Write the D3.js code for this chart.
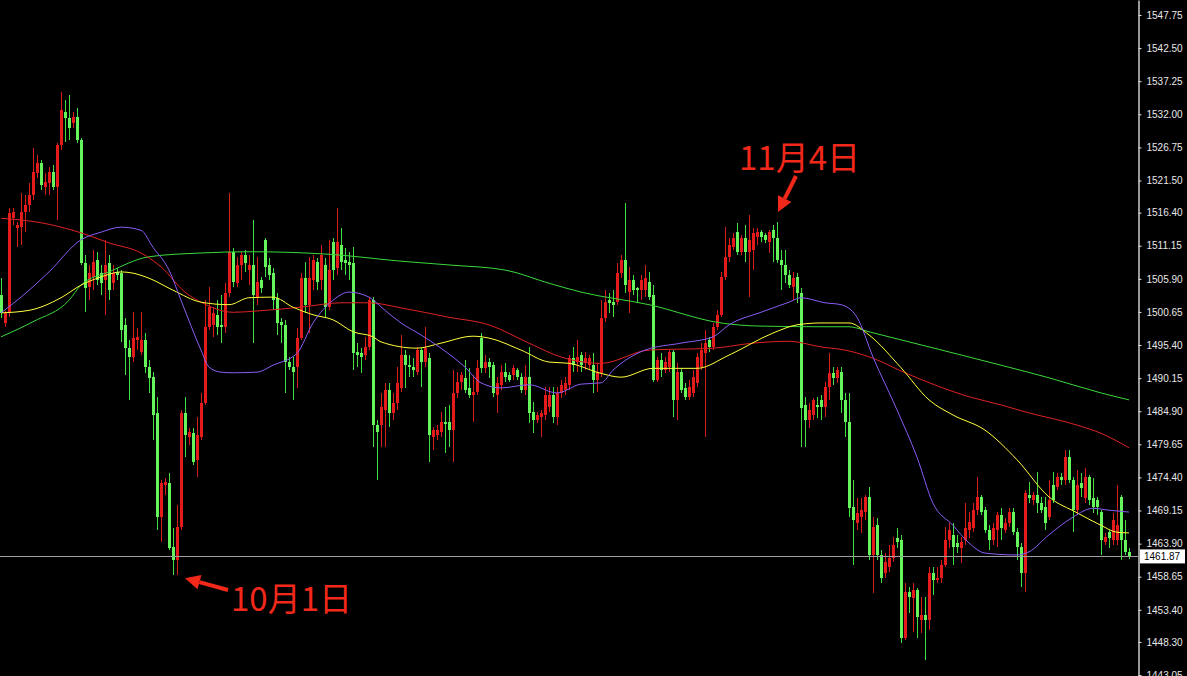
<!DOCTYPE html>
<html><head><meta charset="utf-8">
<script src="https://cdn.jsdelivr.net/npm/d3@7/dist/d3.min.js"></script>
<style>body{margin:0;background:#000;overflow:hidden}svg{display:block}</style>
</head><body><svg id="c" width="1187" height="676"></svg>
<script>
// ---- data ----
const open = [1503.3,1498.9,1500.5,1515.5,1513.9,1514.1,1516.5,1517.6,1519.2,1522.7,
1524.3,1520.5,1521.1,1522.8,1520.5,1527.1,1532.4,1531.4,1530.6,1531.6,
1527.9,1508.4,1504.6,1506.2,1508.9,1506.8,1505.7,1508.4,1505.2,1507.0,
1506.8,1498.6,1494.9,1493.5,1496.2,1494.3,1496.2,1491.9,1490.3,1484.6,
1468.1,1473.2,1473.5,1463.4,1461.3,1466.5,1484.6,1480.8,1481.4,1477.2,
1480.8,1486.2,1498.3,1498.6,1500.2,1498.6,1498.3,1503.6,1510.2,1505.2,
1508.1,1509.7,1507.3,1508.1,1503.0,1505.7,1512.0,1508.1,1506.8,1502.9,
1499.0,1498.6,1492.7,1491.9,1491.9,1496.5,1506.0,1501.7,1505.7,1508.6,
1505.7,1508.1,1501.4,1511.7,1507.6,1511.3,1508.9,1508.6,1508.4,1494.3,
1494.1,1493.8,1495.1,1502.5,1482.7,1482.7,1485.1,1488.3,1484.6,1486.2,
1488.6,1493.8,1492.2,1491.9,1491.1,1494.6,1492.7,1493.3,1480.8,1481.1,
1481.6,1483.2,1483.2,1481.9,1487.8,1489.5,1490.2,1488.6,1487.5,1487.9,
1496.5,1491.7,1492.7,1492.2,1487.5,1489.1,1491.1,1490.6,1490.6,1491.4,
1490.3,1488.3,1490.3,1484.8,1483.5,1484.0,1484.3,1485.6,1487.5,1484.0,
1487.8,1488.3,1489.1,1493.3,1492.7,1493.8,1492.5,1492.2,1492.2,1489.9,
1491.0,1499.7,1502.5,1502.2,1502.2,1506.8,1508.9,1503.8,1505.7,1504.4,
1504.1,1504.1,1505.4,1503.3,1489.9,1493.0,1491.4,1491.9,1494.3,1486.7,
1491.1,1488.6,1487.2,1487.8,1489.4,1491.9,1494.1,1496.2,1495.1,1498.3,
1500.2,1506.2,1509.4,1511.0,1513.3,1510.2,1512.4,1510.2,1510.5,1512.5,
1513.3,1512.8,1511.7,1513.6,1512.4,1508.9,1508.1,1506.5,1504.6,1506.2,
1503.6,1485.9,1483.5,1484.3,1485.9,1486.7,1485.6,1488.7,1490.9,1490.2,
1491.1,1486.7,1483.2,1469.7,1467.2,1468.1,1468.9,1471.3,1462.1,1466.8,
1462.1,1459.2,1460.2,1461.6,1464.8,1464.5,1448.9,1456.2,1455.3,1456.5,
1451.8,1452.6,1451.8,1459.2,1458.1,1458.4,1460.5,1464.5,1465.3,1464.0,
1463.2,1464.5,1466.1,1466.4,1469.2,1471.3,1469.2,1466.1,1464.5,1466.1,
1468.4,1466.1,1467.2,1468.9,1465.7,1463.4,1459.2,1471.6,1470.8,1471.6,
1470.3,1469.7,1468.1,1473.2,1472.9,1474.5,1474.0,1477.6,1474.0,1469.2,
1473.5,1471.1,1474.5,1471.1,1470.8,1468.9,1464.2,1465.7,1464.5,1464.5,
1471.3,1464.5,1462.6];
const high = [1506.0,1500.8,1517.1,1517.1,1514.9,1519.5,1519.2,1521.1,1526.7,1525.5,
1524.8,1522.7,1523.6,1523.9,1527.4,1535.5,1534.3,1535.0,1532.4,1533.0,
1528.2,1509.7,1508.1,1510.5,1510.2,1508.1,1512.0,1509.7,1508.1,1507.6,
1507.3,1499.7,1496.2,1500.6,1498.1,1500.6,1497.3,1493.0,1491.1,1487.2,
1474.0,1474.3,1475.1,1466.4,1470.0,1485.1,1487.2,1482.2,1482.2,1484.0,
1487.8,1502.5,1504.6,1501.4,1502.5,1503.3,1505.2,1519.5,1510.8,1509.4,
1510.2,1510.5,1509.7,1515.2,1509.4,1506.2,1512.4,1509.2,1507.6,1503.7,
1499.7,1499.4,1493.5,1493.5,1498.1,1506.8,1508.6,1509.4,1509.7,1509.2,
1511.3,1509.2,1512.0,1512.4,1517.1,1514.0,1510.8,1510.2,1510.9,1495.7,
1494.9,1496.7,1503.0,1503.0,1483.5,1487.8,1489.4,1489.4,1487.8,1491.9,
1497.0,1494.6,1493.8,1493.3,1495.1,1494.9,1498.3,1494.1,1482.4,1482.7,
1484.8,1485.6,1485.9,1491.4,1491.1,1491.1,1493.0,1491.7,1490.6,1493.0,
1497.3,1493.8,1493.3,1492.7,1490.3,1492.2,1492.5,1491.1,1492.2,1491.7,
1490.9,1492.2,1495.1,1486.4,1484.8,1485.1,1488.7,1488.7,1488.7,1488.7,
1489.9,1490.3,1493.8,1495.1,1496.2,1494.3,1494.3,1493.8,1494.1,1492.5,
1502.5,1504.1,1503.6,1504.1,1508.4,1509.7,1517.9,1507.8,1506.5,1504.6,
1506.5,1508.1,1507.0,1504.9,1493.5,1494.1,1493.5,1494.6,1494.6,1492.5,
1491.7,1489.4,1489.9,1491.4,1494.1,1495.7,1497.8,1496.7,1498.9,1500.9,
1507.0,1514.1,1512.4,1513.2,1514.8,1512.8,1514.4,1516.0,1514.0,1514.0,
1513.6,1513.2,1513.6,1514.4,1514.9,1510.5,1510.5,1507.3,1507.0,1506.8,
1504.4,1487.2,1486.2,1487.0,1487.2,1487.5,1489.5,1494.1,1491.9,1491.9,
1491.9,1487.8,1487.8,1474.0,1471.1,1471.1,1471.6,1472.9,1468.1,1467.9,
1462.9,1462.4,1463.7,1464.9,1466.4,1465.3,1457.6,1457.0,1457.6,1456.9,
1455.4,1455.4,1460.2,1460.2,1460.2,1461.3,1466.5,1467.2,1467.2,1465.3,
1464.9,1470.3,1468.9,1470.3,1474.5,1471.6,1469.7,1466.9,1467.2,1468.9,
1469.5,1467.9,1469.5,1469.5,1466.4,1464.0,1472.4,1473.7,1472.1,1475.3,
1471.3,1471.3,1474.0,1475.3,1475.1,1475.1,1478.7,1478.7,1474.5,1475.6,
1475.1,1475.9,1474.8,1474.3,1471.3,1469.2,1465.6,1466.1,1468.7,1473.2,
1471.6,1467.6,1463.2];
const low = [1499.7,1498.2,1499.8,1514.4,1510.9,1511.3,1513.3,1516.5,1518.4,1521.9,
1520.0,1519.2,1519.2,1520.0,1515.2,1526.3,1527.6,1527.9,1529.8,1527.4,
1508.1,1500.6,1502.5,1504.1,1504.9,1503.3,1500.2,1502.5,1504.1,1505.7,
1495.9,1490.6,1486.7,1492.7,1494.6,1493.8,1491.0,1487.8,1480.3,1466.1,
1464.2,1471.6,1462.9,1458.9,1458.9,1466.1,1477.6,1479.5,1476.4,1474.5,
1480.3,1485.9,1497.8,1496.7,1497.0,1495.7,1497.3,1503.0,1504.6,1504.6,
1505.7,1507.0,1504.9,1495.7,1501.7,1503.6,1506.2,1505.7,1500.9,1497.0,
1495.7,1487.8,1491.4,1486.7,1488.6,1496.2,1500.5,1497.3,1504.1,1504.1,
1504.1,1499.8,1500.9,1505.7,1506.5,1507.3,1506.5,1505.7,1491.4,1491.9,
1490.9,1493.0,1494.6,1479.2,1474.0,1479.2,1479.2,1482.4,1483.5,1485.1,
1487.9,1488.6,1490.3,1490.3,1490.6,1488.7,1491.9,1476.8,1478.7,1480.3,
1480.8,1478.3,1479.2,1476.8,1487.0,1488.3,1487.8,1487.0,1483.2,1487.5,
1491.0,1491.0,1490.2,1487.1,1484.6,1488.3,1489.5,1489.5,1489.9,1489.9,
1487.8,1487.5,1483.0,1481.4,1483.0,1480.8,1483.5,1484.8,1483.0,1482.7,
1487.0,1487.5,1488.3,1491.1,1491.1,1491.1,1491.4,1491.4,1487.8,1487.9,
1490.3,1499.0,1500.5,1499.8,1501.7,1506.0,1503.6,1500.5,1503.3,1502.0,
1502.5,1503.0,1502.5,1489.5,1489.5,1490.3,1490.9,1491.1,1484.0,1483.5,
1487.8,1486.7,1486.7,1487.2,1488.7,1491.4,1480.8,1494.3,1494.6,1497.8,
1499.8,1505.7,1508.6,1510.5,1509.7,1509.7,1508.6,1503.0,1507.3,1511.3,
1511.7,1511.6,1510.0,1508.6,1508.4,1504.1,1505.2,1504.4,1502.5,1502.0,
1479.2,1479.2,1482.2,1483.5,1483.8,1483.5,1484.0,1486.7,1489.1,1489.4,
1484.6,1480.8,1468.1,1460.5,1466.1,1465.6,1467.6,1461.3,1456.0,1461.3,
1457.6,1458.4,1459.4,1461.0,1463.2,1448.1,1448.6,1452.9,1449.9,1448.9,
1449.7,1445.4,1450.2,1455.8,1457.6,1457.6,1460.2,1463.2,1460.5,1462.4,
1460.8,1463.7,1464.8,1465.7,1468.4,1468.4,1465.6,1462.9,1463.7,1463.4,
1464.5,1465.6,1466.5,1465.3,1461.3,1457.0,1456.2,1470.3,1470.0,1468.7,
1468.7,1466.1,1467.6,1470.3,1472.4,1473.2,1473.2,1473.5,1465.7,1468.4,
1471.3,1470.3,1470.0,1468.7,1468.4,1462.1,1463.7,1463.2,1463.7,1463.7,
1461.3,1462.1,1461.5];
const close = [1500.5,1500.5,1516.3,1516.5,1514.4,1516.5,1517.6,1519.2,1522.8,1524.3,
1520.8,1521.3,1522.8,1520.5,1527.1,1532.7,1531.4,1529.8,1531.6,1527.9,
1508.4,1504.4,1506.8,1508.6,1505.7,1505.2,1508.1,1504.1,1506.8,1506.5,
1497.8,1494.9,1493.5,1496.5,1496.7,1496.2,1491.9,1490.2,1484.3,1468.1,
1473.5,1473.7,1463.2,1461.3,1466.5,1484.6,1481.1,1481.6,1476.8,1481.1,
1486.2,1498.3,1501.4,1500.5,1498.3,1498.3,1503.6,1510.2,1505.4,1508.1,
1509.7,1508.4,1508.1,1503.3,1505.4,1504.4,1507.8,1506.5,1502.5,1498.9,
1498.6,1492.7,1491.9,1491.1,1496.5,1506.0,1501.7,1506.0,1508.9,1505.4,
1509.7,1501.4,1507.3,1507.3,1511.7,1508.6,1508.4,1508.1,1494.1,1493.8,
1493.5,1495.1,1502.5,1482.7,1481.6,1485.6,1488.3,1484.6,1486.2,1489.4,
1493.8,1492.2,1491.9,1491.4,1494.6,1492.7,1494.9,1481.1,1481.9,1481.9,
1483.2,1482.9,1481.9,1487.8,1489.5,1490.6,1488.3,1487.5,1487.9,1491.7,
1491.7,1492.7,1491.9,1487.8,1489.4,1491.1,1490.3,1489.9,1491.7,1490.3,
1488.3,1490.3,1484.6,1483.5,1484.3,1484.6,1487.5,1487.5,1484.0,1487.8,
1489.1,1489.4,1493.3,1492.2,1493.5,1492.2,1493.3,1493.3,1489.9,1491.1,
1499.7,1502.2,1502.0,1501.7,1506.8,1508.9,1504.9,1505.7,1504.1,1504.1,
1505.7,1506.0,1503.0,1489.9,1493.0,1491.4,1492.7,1494.3,1486.7,1491.1,
1488.3,1487.2,1488.7,1490.3,1493.5,1494.6,1495.7,1495.1,1498.3,1500.2,
1506.2,1509.4,1511.3,1512.4,1510.2,1512.4,1510.2,1512.0,1513.2,1513.3,
1512.5,1512.0,1513.3,1512.4,1508.9,1508.1,1506.5,1504.9,1506.0,1503.6,
1485.4,1483.5,1485.1,1486.7,1485.6,1485.6,1488.7,1490.9,1490.2,1491.4,
1486.7,1483.2,1469.5,1467.6,1468.7,1469.2,1471.3,1462.1,1466.5,1462.1,
1458.4,1461.0,1461.6,1463.7,1464.2,1448.9,1456.2,1455.4,1456.5,1452.2,
1452.6,1451.8,1459.2,1458.1,1458.4,1460.5,1464.5,1466.1,1463.4,1463.4,
1464.2,1466.4,1467.3,1469.2,1471.3,1468.9,1466.1,1464.5,1466.4,1468.4,
1466.4,1467.2,1468.9,1465.7,1463.4,1459.2,1471.9,1471.1,1471.6,1470.3,
1469.2,1467.2,1470.8,1470.8,1474.5,1474.0,1477.6,1474.0,1469.2,1473.2,
1472.7,1474.5,1470.8,1469.7,1469.7,1464.5,1465.0,1464.8,1467.6,1466.8,
1464.5,1462.6,1461.87];

// moving averages, points: [bar index, price]
const maPurple = [[0,1500.5],[5,1503.0],[12,1507.0],[20,1512.1],[25,1513.3],[30,1514.1],[35,1513.6],[38,1510.9],[42,1507.3],[45,1502.5],[50,1494.6],[52,1491.9],[55,1491.1],[58,1491.0],[64,1491.1],[68,1492.2],[74,1494.1],[78,1498.9],[83,1502.5],[87,1503.8],[92,1503.0],[96,1500.9],[100,1498.9],[105,1497.0],[110,1494.9],[116,1491.9],[120,1489.4],[125,1488.6],[132,1489.1],[139,1487.8],[145,1489.2],[150,1489.4],[153,1491.4],[161,1494.6],[170,1495.7],[178,1496.7],[182,1498.6],[190,1500.6],[197,1502.2],[200,1502.9],[206,1502.1],[210,1501.8],[214,1499.8],[218,1493.5],[224,1485.1],[229,1477.6],[233,1470.3],[238,1466.8],[242,1464.0],[246,1462.4],[254,1462.1],[257,1462.6],[262,1465.3],[268,1468.1],[273,1469.5],[277,1469.2],[282,1468.9]];
const maYellow = [[0,1500.5],[7,1500.9],[15,1502.9],[20,1504.9],[25,1506.2],[30,1507.0],[33,1506.8],[37,1506.0],[43,1504.1],[50,1502.2],[57,1501.8],[62,1502.9],[68,1503.0],[73,1501.4],[78,1500.2],[83,1499.4],[88,1497.5],[93,1496.7],[95,1495.9],[104,1494.9],[110,1495.7],[118,1496.8],[122,1496.5],[130,1494.6],[137,1492.7],[142,1492.5],[150,1490.9],[155,1490.3],[163,1491.7],[174,1491.7],[182,1493.8],[193,1497.3],[199,1498.6],[205,1498.9],[212,1498.9],[217,1497.0],[225,1491.8],[232,1486.7],[238,1484.3],[246,1481.9],[254,1477.2],[262,1471.3],[269,1468.8],[275,1466.8],[279,1465.7],[282,1465.6]];
const maRed = [[0,1515.5],[10,1514.8],[20,1513.2],[27,1511.6],[35,1510.0],[40,1507.8],[46,1503.8],[50,1502.2],[58,1500.6],[66,1500.9],[75,1501.4],[85,1502.1],[92,1502.1],[100,1501.3],[112,1499.8],[122,1498.6],[132,1495.7],[140,1493.5],[150,1492.5],[162,1494.6],[178,1494.9],[188,1495.7],[197,1496.0],[205,1495.1],[211,1494.6],[218,1493.3],[226,1491.0],[242,1487.2],[250,1485.9],[256,1484.8],[269,1482.7],[275,1481.4],[282,1479.1]];
const maGreen = [[0,1496.7],[8,1499.1],[17,1502.5],[20,1504.9],[27,1507.0],[37,1509.4],[50,1510.0],[62,1510.2],[82,1509.8],[100,1508.7],[112,1508.1],[126,1507.3],[137,1505.2],[145,1503.8],[162,1501.8],[180,1498.9],[190,1498.4],[205,1498.3],[212,1498.3],[217,1497.5],[242,1493.5],[250,1492.2],[262,1490.2],[275,1487.8],[282,1486.7]];

const tickValues = [1547.75,1542.50,1537.25,1532.00,1526.75,1521.50,1516.40,1511.15,1505.90,1500.65,1495.40,1490.15,1484.90,1479.65,1474.40,1469.15,1463.90,1458.65,1453.40,1448.30,1443.05];
const lastPrice = 1461.87;
const notes = [{text:"11月4日", bar:194, price:1514.9, tx:739, ty:170, ax:796, ay:176},
               {text:"10月1日", bar:44, price:1458.9, tx:231, ty:611, ax:228, ay:590}];

// ---- drawing ----
const W = 1187, H = 676, axisX = 1138;
const svg = d3.select("#c");
svg.append("rect").attr("width",W).attr("height",H).attr("fill","#000");
const x = d3.scaleLinear().domain([0, open.length-1]).range([1, 1129]);
const y = d3.scaleLinear().domain([1442.9, 1550.13]).range([H, 0]);

const bars = open.map((o,i)=>({i,o,h:high[i],l:low[i],c:close[i]}));
const UP_BODY="#e41b1b", UP_WICK="#d81c1c", DN_BODY="#66f55c", DN_WICK="#40e040";

const g = svg.append("g").attr("shape-rendering","crispEdges");
g.selectAll("line.w").data(bars).join("line")
  .attr("x1",d=>Math.round(x(d.i))+0.5).attr("x2",d=>Math.round(x(d.i))+0.5)
  .attr("y1",d=>y(d.h)).attr("y2",d=>y(d.l))
  .attr("stroke",d=>d.c>=d.o?UP_WICK:DN_WICK).attr("stroke-width",1);
g.selectAll("rect.b").data(bars).join("rect")
  .attr("x",d=>Math.round(x(d.i))-1).attr("width",3)
  .attr("y",d=>y(Math.max(d.o,d.c)))
  .attr("height",d=>Math.max(1, Math.abs(y(d.o)-y(d.c))))
  .attr("fill",d=>d.c>=d.o?UP_BODY:DN_BODY);

const line = d3.line().x(d=>x(d[0])).y(d=>y(d[1])).curve(d3.curveMonotoneX);
[[maGreen,"#3ad83a"],[maRed,"#dd2222"],[maYellow,"#ffff3c"],[maPurple,"#8a5cf2"]].forEach(([pts,col])=>{
  svg.append("path").attr("d",line(pts)).attr("fill","none").attr("stroke",col).attr("stroke-width",1);
});

// current price line
svg.append("line").attr("x1",0).attr("x2",axisX).attr("y1",Math.round(y(lastPrice))+0.5).attr("y2",Math.round(y(lastPrice))+0.5)
  .attr("stroke","#a0a0a0").attr("stroke-width",1);

// price axis
svg.append("rect").attr("x",axisX).attr("y",0).attr("width",W-axisX).attr("height",H).attr("fill","#000");
const axis = d3.axisRight(y).tickValues(tickValues).tickFormat(d3.format(".2f")).tickSize(3).tickSizeOuter(0).tickPadding(5);
const ag = svg.append("g").attr("transform",`translate(${axisX+0.5},0)`).call(axis);
ag.select(".domain").attr("stroke","#ffffff").attr("stroke-width",1.2);
ag.selectAll(".tick line").attr("stroke","#e0e0e0");
ag.selectAll(".tick text").attr("fill","#e8e8e8").attr("font-size","10px").attr("font-family","'Liberation Sans', Arial, sans-serif");

// last price tag
const ly = y(lastPrice);
svg.append("rect").attr("x",axisX+2).attr("y",ly-7).attr("width",45).attr("height",14).attr("fill","#ffffff");
svg.append("text").attr("x",axisX+6).attr("y",ly+3.5).text(d3.format(".2f")(lastPrice))
  .attr("font-size","10px").attr("font-family","'Liberation Sans', Arial, sans-serif").attr("fill","#000");

// annotations
const RED = "#f2281a";
notes.forEach(n=>{
  svg.append("text").attr("x",n.tx).attr("y",n.ty).text(n.text)
    .attr("font-size","33px").attr("font-family","'Noto Sans CJK SC', sans-serif").attr("fill",RED);
  const ex = n.bar===194 ? x(n.bar)+1 : x(n.bar)+8;
  const ey = n.bar===194 ? y(n.price)-10 : y(n.price)+3;
  const dx = ex - n.ax, dy = ey - n.ay, len = Math.hypot(dx,dy), ux = dx/len, uy = dy/len;
  const hl = 15, hw = 7.5;
  const bx = ex - ux*hl, by = ey - uy*hl;
  svg.append("line").attr("x1",n.ax).attr("y1",n.ay).attr("x2",bx).attr("y2",by).attr("stroke",RED).attr("stroke-width",4);
  svg.append("path").attr("d",`M${ex},${ey}L${bx - uy*hw},${by + ux*hw}L${bx + uy*hw},${by - ux*hw}Z`).attr("fill",RED);
});
</script>
</body></html>
